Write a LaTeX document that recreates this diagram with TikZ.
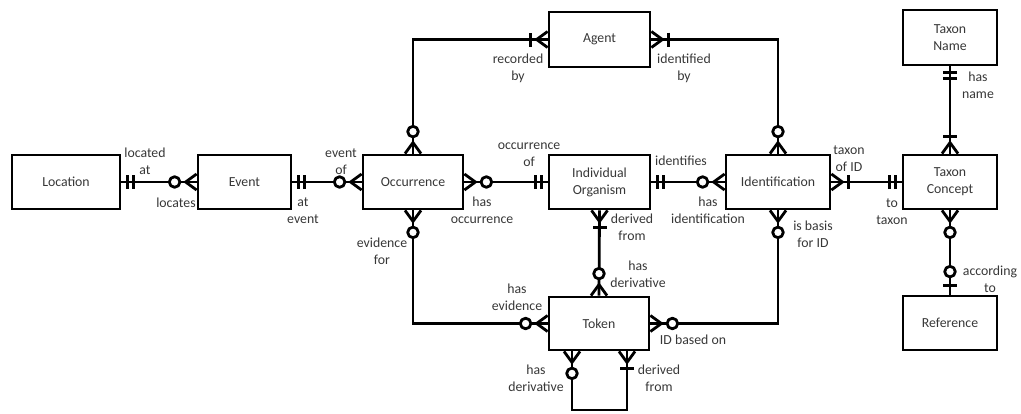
\documentclass[tikz,border=0pt]{standalone}
\usepackage{fontspec}
\setmainfont{Carlito}
\usetikzlibrary{calc}
\definecolor{txt}{RGB}{55,55,55}
\newcommand{\crowfoot}[2]{\begin{scope}[shift={(#1)},rotate=#2]\draw[mk] (0,-8)--(11,0)--(0,8);\end{scope}}
\newcommand{\erbar}[3]{\begin{scope}[shift={(#1)},rotate=#2]\draw[mk] (#3,-7)--(#3,7);\end{scope}}
\newcommand{\ercirc}[3]{\begin{scope}[shift={(#1)},rotate=#2]\draw[mk,fill=white] (#3,0) circle[radius=5.3pt];\end{scope}}
\newcommand{\zeromany}[2]{\crowfoot{#1}{#2}\ercirc{#1}{#2}{22}}
\newcommand{\onemany}[2]{\crowfoot{#1}{#2}\erbar{#1}{#2}{17}}
\newcommand{\oneone}[2]{\erbar{#1}{#2}{6}\erbar{#1}{#2}{12}}
\newcommand{\zeroone}[2]{\erbar{#1}{#2}{9}\ercirc{#1}{#2}{23}}
\begin{document}
\begin{tikzpicture}[x=1pt,y=-1pt,
  box/.style={draw=black,line width=2.8pt,minimum height=54pt,inner sep=0pt,align=center,text=txt,font=\fontsize{13.8}{17}\selectfont},
  lbl/.style={inner sep=0pt,align=center,text=txt,font=\fontsize{13.8}{17}\selectfont},
  conn/.style={draw=black,line width=2.8pt},
  mk/.style={draw=black,line width=2.8pt,line join=round},
]
\useasboundingbox (0,0) rectangle (1021,413);
% entities
\node[box,minimum width=108pt] (loc) at (66,182) {Location};
\node[box,minimum width=93pt] (evt) at (244.5,182) {Event};
\node[box,minimum width=100pt] (occ) at (413,182) {Occurrence};
\node[box,minimum width=101pt] (org) at (599.5,182) {Individual\\Organism};
\node[box,minimum width=104pt] (ide) at (778,182) {Identification};
\node[box,minimum width=94pt] (con) at (950,182) {Taxon\\Concept};
\node[box,minimum width=94pt,minimum height=55pt] (nam) at (950,37.5) {Taxon\\Name};
\node[box,minimum width=94pt] (ref) at (950,323) {Reference};
\node[box,minimum width=101pt,minimum height=55pt] (agt) at (599.5,39.5) {Agent};
\node[box,minimum width=100pt,minimum height=53pt] (tok) at (599,323.5) {Token};
\coordinate (tl) at ($(tok.south)+(-27,0)$);
\coordinate (tr) at ($(tok.south)+(28,0)$);
\coordinate (lb) at (572,410);
\coordinate (rb) at (627,410);
% connectors
\draw[conn] (loc.east) -- (evt.west);
\draw[conn] (evt.east) -- (occ.west);
\draw[conn] (occ.north) |- (agt.west);
\draw[conn] (agt.east) -| (ide.north);
\draw[conn] (occ.east) -- (org.west);
\draw[conn] (org.east) -- (ide.west);
\draw[conn] (ide.east) -- (con.west);
\draw[conn] (occ.south) |- (tok.west);
\draw[conn] (org.south) -- (tok.north);
\draw[conn] (ide.south) |- (tok.east);
\draw[conn] (tl) -- (tl |- lb) -- (rb) -- (tr);
\draw[conn] (nam.south) -- (con.north);
\draw[conn] (con.south) -- (ref.north);
% end marks
\oneone{loc.east}{0}
\zeromany{evt.west}{180}
\oneone{evt.east}{0}
\zeromany{occ.west}{180}
\zeromany{occ.north}{90}
\onemany{agt.west}{180}
\onemany{agt.east}{0}
\zeromany{ide.north}{90}
\zeromany{occ.east}{0}
\oneone{org.west}{180}
\oneone{org.east}{0}
\zeromany{ide.west}{180}
\onemany{ide.east}{0}
\oneone{con.west}{180}
\zeromany{occ.south}{270}
\zeromany{tok.west}{180}
\onemany{org.south}{270}
\zeromany{tok.north}{90}
\zeromany{ide.south}{270}
\zeromany{tok.east}{0}
\zeromany{tl}{270}
\onemany{tr}{270}
\oneone{nam.south}{270}
\onemany{con.north}{90}
\zeromany{con.south}{270}
\zeroone{ref.north}{90}
% labels
\node[lbl] (t1) at (145,161.5) {located\\at};
\node[lbl] (t2) at (176,203) {locates};
\node[lbl] (t3) at (303,210.5) {at\\event};
\node[lbl] (t4) at (341,161.5) {event\\of};
\node[lbl] (t5) at (518,68.5) {recorded\\by};
\node[lbl] (t6) at (684,68.5) {identified\\by};
\node[lbl] (t7) at (529,155) {occurrence\\of};
\node[lbl] (t8) at (482,210) {has\\occurrence};
\node[lbl] (t9) at (382,251.5) {evidence\\for};
\node[lbl] (t10) at (632,227.5) {derived\\from};
\node[lbl] (t11) at (681,161) {identifies};
\node[lbl] (t12) at (708,210.5) {has\\identification};
\node[lbl] (t13) at (849,158.5) {taxon\\of ID};
\node[lbl] (t14) at (813,234.5) {is basis\\for ID};
\node[lbl] (t15) at (892,212) {to\\taxon};
\node[lbl] (t16) at (978,85.5) {has\\name};
\node[lbl] (t17) at (990,279) {according\\to};
\node[lbl] (t18) at (638,274.5) {has\\derivative};
\node[lbl] (t19) at (517,297.5) {has\\evidence};
\node[lbl] (t20) at (693,340) {ID based on};
\node[lbl] (t21) at (536,378) {has\\derivative};
\node[lbl] (t22) at (659,378) {derived\\from};
\end{tikzpicture}
\end{document}
